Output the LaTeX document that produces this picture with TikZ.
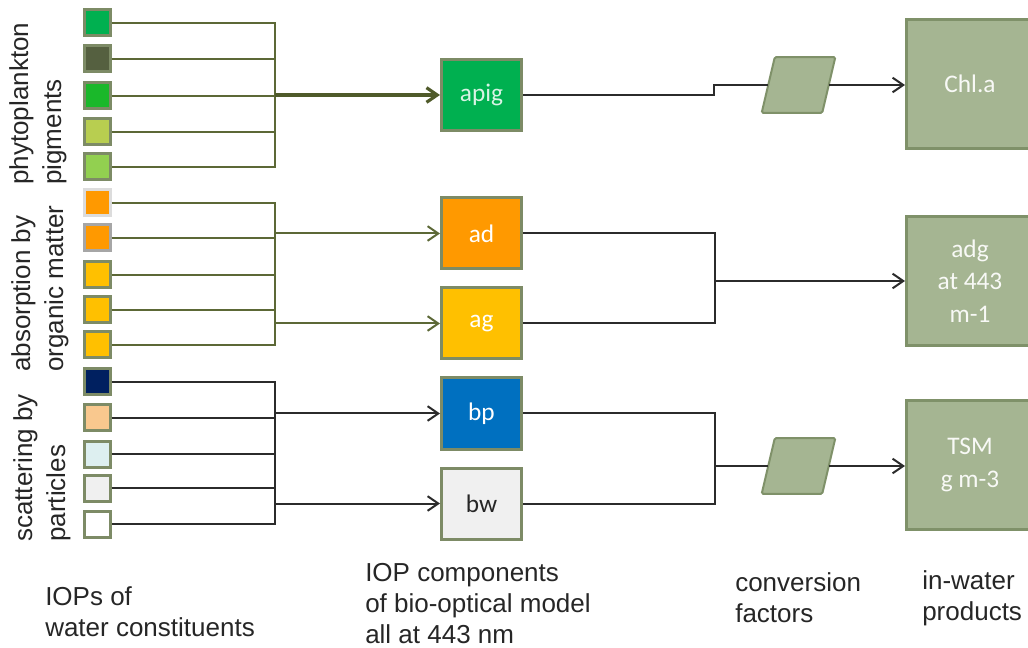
\documentclass[tikz,border=0pt]{standalone}
\usepackage{fontspec}
\setmainfont{Liberation Sans}
\newfontfamily\boxfont{Carlito}
\usetikzlibrary{arrows.meta,calc}

\definecolor{olivebd}{HTML}{7D8B66}
\definecolor{oliveln}{HTML}{5C6836}
\definecolor{olivedk}{HTML}{4F5A2A}
\definecolor{darkln}{HTML}{2B2B2B}
\definecolor{sage}{HTML}{A5B592}
\definecolor{sagebd}{HTML}{7F9169}
\definecolor{cA}{HTML}{00B050}
\definecolor{cB}{HTML}{556040}
\definecolor{cC}{HTML}{1AB82A}
\definecolor{cD}{HTML}{B8CE50}
\definecolor{cE}{HTML}{92D050}
\definecolor{cOr}{HTML}{FF9900}
\definecolor{cYe}{HTML}{FFC000}
\definecolor{cNa}{HTML}{002060}
\definecolor{cPe}{HTML}{F9C88E}
\definecolor{cCy}{HTML}{DDEFF0}
\definecolor{cGr}{HTML}{F0F0F0}
\definecolor{cBl}{HTML}{0070C0}
\definecolor{bdLi}{HTML}{DCDCDC}
\definecolor{bdMe}{HTML}{A6A6A6}
\definecolor{txt}{HTML}{262626}

\begin{document}
\begin{tikzpicture}[x=0.75pt,y=-0.75pt,
 sq/.style={draw=olivebd, line width=2.25pt, minimum size=19.5pt, inner sep=0pt},
 iop/.style={draw=olivebd, line width=2.25pt, minimum width=60pt, minimum height=53.25pt, inner sep=0pt, font=\boxfont\fontsize{19}{21}\selectfont, text=white},
 prod/.style={draw=sagebd, fill=sage, line width=2.25pt, minimum width=95.25pt, minimum height=96.75pt, inner sep=0pt, font=\boxfont\fontsize{19}{24.5}\selectfont, text=white!92!sage, align=center},
 conv/.style={minimum width=45pt, minimum height=41.25pt, inner sep=0pt},
 para/.style={draw=sagebd, fill=sage, line width=1.5pt, rounded corners=1pt},
 olv/.style={draw=oliveln, line width=1.5pt},
 blk/.style={draw=darkln, line width=1.5pt},
 tip/.style={-{Straight Barb[length=8pt,width=11pt]}},
 lbl/.style={font=\fontsize{19.5}{23.25}\selectfont, align=left, inner sep=0pt, text=txt},
 side/.style={rotate=90, anchor=north west, font=\fontsize{19.5}{24.75}\selectfont, align=left, inner sep=0pt, text=txt}
]
\useasboundingbox (0,0) rectangle (1028,648);
\clip (0,0) rectangle (1028,648);

% left squares
\foreach \i/\y/\c/\b in {1/23/cA/olivebd, 2/59/cB/olivebd, 3/96/cC/olivebd, 4/132/cD/olivebd, 5/167/cE/olivebd}
  \node[sq, fill=\c, draw=\b] (p\i) at (97,\y) {};
\foreach \i/\y/\c/\b in {1/203/cOr/bdLi, 2/238/cOr/bdMe, 3/275/cYe/olivebd, 4/310/cYe/olivebd, 5/345/cYe/olivebd}
  \node[sq, fill=\c, draw=\b] (o\i) at (97,\y) {};
\foreach \i/\y/\c/\b in {1/382/cNa/olivebd, 2/418/cPe/olivebd, 3/454/cCy/olivebd, 4/488/cGr/olivebd, 5/524/white/olivebd}
  \node[sq, fill=\c, draw=\b] (s\i) at (97,\y) {};

\coordinate (bx) at (275,95);

% middle boxes
\node[iop, fill=cA, text=white!85!cA] (apig) at (481.5,95) {apig};
\node[iop, fill=cOr] (ad) at (481.5,233.5) {ad};
\node[iop, fill=cYe] (ag) at (481.5,323.5) {ag};
\node[iop, fill=cBl] (bp) at (481.5,413.5) {bp};
\node[iop, fill=cGr, text=txt] (bw) at (481.5,503.5) {bw};

% conversion factors
\node[conv] (conv1) at (798.5,85) {};
\node[conv] (conv2) at (798.5,466) {};
\foreach \c in {conv1,conv2}
  \draw[para] ([xshift=-4.9pt]\c.south west) -- ([xshift=4.9pt]\c.north west) -- ([xshift=4.9pt]\c.north east) -- ([xshift=-4.9pt]\c.south east) -- cycle;

% products
\node[prod] (chla) at (970,84) {Chl.a};
\node[prod] (adg) at (970,281) {adg\\at 443\\m-1};
\node[prod] (tsm) at (970,465) {TSM\\g m-3};

% buses: phytoplankton
\draw[olv] (p1.east) -| (p5.east -| bx) -- (p5.east);
\foreach \i in {2,3,4} \draw[olv] (p\i.east) -- (p\i.east -| bx);
\draw[olv, draw=olivedk, line width=2.4pt, -{Straight Barb[length=8pt,width=11pt]}] (apig.west -| bx) -- (apig.west);
% organic matter
\draw[olv] (o1.east) -| (o5.east -| bx) -- (o5.east);
\foreach \i in {2,3,4} \draw[olv] (o\i.east) -- (o\i.east -| bx);
\draw[olv, tip] (ad.west -| bx) -- (ad.west);
\draw[olv, tip] (ag.west -| bx) -- (ag.west);
% particles
\draw[blk] (s1.east) -| (s5.east -| bx) -- (s5.east);
\foreach \i in {2,3,4} \draw[blk] (s\i.east) -- (s\i.east -| bx);
\draw[blk, tip] (bp.west -| bx) -- (bp.west);
\draw[blk, tip] (bw.west -| bx) -- (bw.west);

% outputs
\coordinate (j1) at (714,85);
\draw[blk] (apig.east) -| (j1) -- (conv1.west);
\draw[blk, tip] (conv1.east) -- (conv1.east -| chla.west);
\coordinate (j2) at (715,281);
\draw[blk] (ad.east) -| (j2 |- ag.east) -- (ag.east);
\draw[blk, tip] (j2) -- (adg.west);
\coordinate (j3) at (715,466);
\draw[blk] (bp.east) -| (j3 |- bw.east) -- (bw.east);
\draw[blk] (j3) -- (conv2.west);
\draw[blk, tip] (conv2.east) -- (conv2.east -| tsm.west);

% side labels
\node[side] (l1) at (9,185) {phytoplankton\\pigments};
\node[side] (l2) at (11,372) {absorption by\\organic matter};
\node[side] (l3) at (13,542) {scattering by\\particles};

% bottom labels
\node[lbl, anchor=west] (t1) at (45,612) {IOPs of\\water constituents};
\node[lbl, anchor=west] (t2) at (365,604) {IOP components\\of bio-optical model\\all at 443 nm};
\node[lbl, anchor=west] (t3) at (735,598) {conversion\\factors};
\node[lbl, anchor=west] (t4) at (922,598) {in-water\\products};
\end{tikzpicture}
\end{document}
